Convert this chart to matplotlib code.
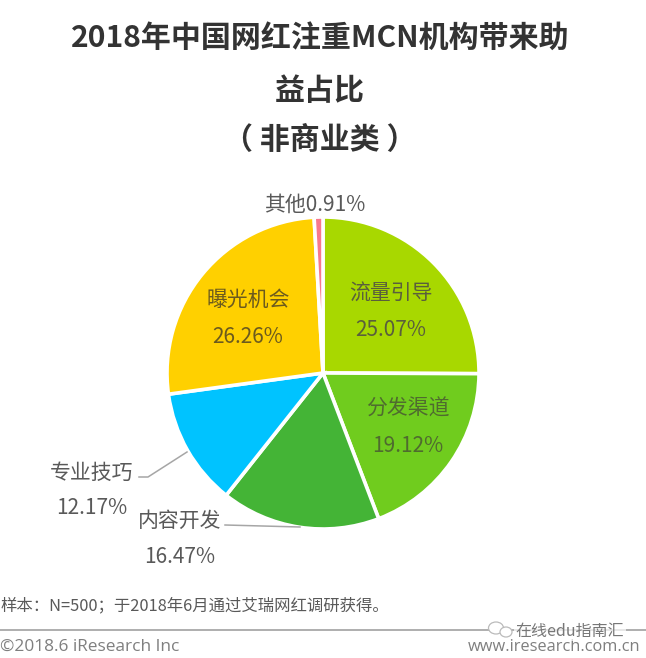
import matplotlib
matplotlib.use("Agg")
import matplotlib.pyplot as plt
from matplotlib.patches import Ellipse

plt.rcParams['font.family'] = ['Noto Sans CJK SC', 'DejaVu Sans']

categories = ['流量引导', '分发渠道', '内容开发', '专业技巧', '曝光机会', '其他']
values = [25.07, 19.12, 16.47, 12.17, 26.26, 0.91]
colors = ['#A8D800', '#70CC1E', '#44B436', '#00C3FF', '#FFD000', '#F8788C']
title_lines = ['2018年中国网红注重MCN机构带来助', '益占比', '（ 非商业类 ）']

W, H = 646, 658
fig = plt.figure(figsize=(W / 100, H / 100), dpi=100, facecolor='white')
ax = fig.add_axes([0, 0, 1, 1])


def Y(py):
    return H - py


ax.pie(values, colors=colors, startangle=90, counterclock=False,
       center=(323, Y(373)), radius=156, frame=True,
       wedgeprops=dict(edgecolor='white', linewidth=2.6))
ax.set_xlim(0, W)
ax.set_ylim(0, H)
ax.set_aspect('equal')
ax.axis('off')

# Title
for line, x, py in zip(title_lines, [320, 320, 320], [38, 91, 140]):
    ax.text(x, Y(py), line, ha='center', va='center', fontsize=21.6,
            fontweight='bold', color='#333333')

lab = '#5A5F3C'
out = '#595959'
fs = 15


def pct(v):
    return f'{v:.2f}%'


# Inside labels
ax.text(391, Y(294), categories[0], ha='center', va='center', fontsize=fs, color=lab)
ax.text(391, Y(330), pct(values[0]), ha='center', va='center', fontsize=fs, color=lab)
ax.text(408, Y(409), categories[1], ha='center', va='center', fontsize=fs, color='#4F6B2F')
ax.text(408, Y(446), pct(values[1]), ha='center', va='center', fontsize=fs, color='#4F6B2F')
ax.text(248, Y(300), categories[4], ha='center', va='center', fontsize=fs, color='#6B5A1E')
ax.text(248, Y(337), pct(values[4]), ha='center', va='center', fontsize=fs, color='#6B5A1E')

# Outside labels
ax.text(315, Y(205), f'{categories[5]}{pct(values[5])}', ha='center', va='center',
        fontsize=fs, color=out)
ax.text(92, Y(473), categories[3], ha='center', va='center', fontsize=fs, color=out)
ax.text(92, Y(508), pct(values[3]), ha='center', va='center', fontsize=fs, color=out)
ax.text(180, Y(521), categories[2], ha='center', va='center', fontsize=fs, color=out)
ax.text(180, Y(557), pct(values[2]), ha='center', va='center', fontsize=fs, color=out)

# Leader lines
ax.plot([187, 148, 139], [Y(452), Y(477), Y(477)], color='#A6A6A6', lw=1.1)
ax.plot([225, 300], [Y(525), Y(527)], color='#A6A6A6', lw=1.1)

# Footer
ax.text(1, Y(606), '样本：N=500；于2018年6月通过艾瑞网红调研获得。', ha='left', va='center',
        fontsize=11.8, color='#595959')
ax.plot([0, 646], [Y(630), Y(630)], color='#999999', lw=1.1)
ax.text(0, Y(647), '©2018.6 iResearch Inc', ha='left', va='center', fontsize=12.4,
        color='#7F7F7F', family='Open Sans')
ax.text(640, Y(647), 'www.iresearch.com.cn', ha='right', va='center', fontsize=11.8,
        color='#7F7F7F', family='Open Sans')
ax.text(570, Y(631), '在线edu指南汇', ha='center', va='center', fontsize=11.5,
        color='#777777', bbox=dict(facecolor='white', edgecolor='none', pad=1.0, alpha=0.7))
ax.add_patch(Ellipse((496, Y(628)), 15, 12, fill=True, facecolor='white', edgecolor='#BBBBBB', lw=0.9, zorder=4))
ax.add_patch(Ellipse((506, Y(632)), 12, 10, fill=True, facecolor='white', edgecolor='#BBBBBB', lw=0.9, zorder=4))

fig.savefig('out.png', dpi=100, facecolor='white')
